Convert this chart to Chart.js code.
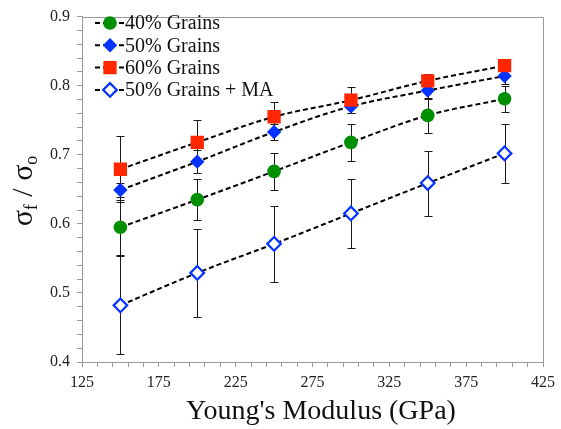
<!DOCTYPE html>
<html>
<head>
<meta charset="utf-8">
<script src="https://cdn.jsdelivr.net/npm/chart.js@4.4.1/dist/chart.umd.min.js"></script>
<style>
  html, body { margin: 0; padding: 0; background: #fff; }
  #wrap { width: 561px; height: 429px; }
</style>
</head>
<body>
<div id="wrap"><canvas id="modulusChart" width="561" height="429"></canvas></div>
<script>
// Young's modulus (GPa) on the x axis
const modulus = [150, 200, 250, 300, 350, 400];

// sigma_f / sigma_o
const grains40 = [0.595, 0.635, 0.676, 0.718, 0.757, 0.781];
const grains50 = [0.649, 0.690, 0.733, 0.770, 0.793, 0.814];
const grains60 = [0.679, 0.718, 0.755, 0.779, 0.807, 0.829];
const grains50MA = [0.482, 0.529, 0.571, 0.615, 0.659, 0.702];

// half-height of each error bar
const err40 = [0.040, 0.030, 0.027, 0.027, 0.025, 0.019];
const err50 = [0.010, 0.017, 0.012, 0.010, 0.013, 0.012];
const err60 = [0.048, 0.032, 0.021, 0.019, 0.010, 0.008];
const err50MA = [0.071, 0.064, 0.055, 0.050, 0.047, 0.043];

const seriesNames = ['40% Grains', '50% Grains', '60% Grains', '50% Grains + MA'];

const serif = "'Liberation Serif', 'Times New Roman', serif";
Chart.defaults.font.family = serif;

function points(vals) {
    return modulus.map((x, i) => ({ x: x, y: vals[i] }));
}

function series(label, vals, errs, style, order) {
    return Object.assign({
        label: label,
        data: points(vals),
        errors: errs,
        borderColor: '#000',
        borderWidth: 2,
        borderDash: [5, 3],
        tension: 0.35,
        fill: false,
        order: order,
        pointBorderWidth: 0
    }, style);
}

const errorBars = {
    id: 'errorBars',
    beforeDatasetsDraw(chart) {
        const { ctx, scales: { x, y } } = chart;
        ctx.save();
        ctx.strokeStyle = '#1a1a1a';
        ctx.lineWidth = 1;
        chart.data.datasets.forEach(ds => {
            ds.data.forEach((p, i) => {
                const e = ds.errors[i];
                const px = Math.round(x.getPixelForValue(p.x)) + 0.5;
                const top = Math.round(y.getPixelForValue(p.y + e)) + 0.5;
                const bot = Math.round(y.getPixelForValue(p.y - e)) + 0.5;
                ctx.beginPath();
                ctx.moveTo(px, top); ctx.lineTo(px, bot);
                ctx.moveTo(px - 4, top); ctx.lineTo(px + 4, top);
                ctx.moveTo(px - 4, bot); ctx.lineTo(px + 4, bot);
                ctx.stroke();
            });
        });
        ctx.restore();
    }
};

// box around the plot, legend inside, and the two axis titles
const decorations = {
    id: 'decorations',
    afterDraw(chart) {
        const ctx = chart.ctx;
        const a = chart.chartArea;
        ctx.save();
        ctx.strokeStyle = '#9a9a9a';
        ctx.lineWidth = 1;
        ctx.beginPath();
        ctx.moveTo(Math.round(a.left) + 0.5, Math.round(a.top) + 0.5);
        ctx.lineTo(Math.round(a.right) + 0.5, Math.round(a.top) + 0.5);
        ctx.lineTo(Math.round(a.right) + 0.5, Math.round(a.bottom) + 0.5);
        ctx.stroke();

        // legend
        chart.data.datasets.forEach((ds, i) => {
            const ly = 23 + i * 22.3;
            ctx.save();
            ctx.strokeStyle = '#000';
            ctx.lineWidth = 2;
            ctx.setLineDash([5, 3]);
            ctx.beginPath();
            ctx.moveTo(95, ly);
            ctx.lineTo(124, ly);
            ctx.stroke();
            ctx.restore();
            ctx.fillStyle = ds.pointBackgroundColor;
            ctx.strokeStyle = ds.pointBorderColor || ds.pointBackgroundColor;
            ctx.lineWidth = ds.pointBorderWidth;
            Chart.helpers.drawPoint(ctx, {
                pointStyle: ds.pointStyle,
                radius: ds.pointRadius,
                rotation: 0,
                borderWidth: ds.pointBorderWidth
            }, 110, ly);
            ctx.fillStyle = '#111';
            ctx.font = '20px ' + serif;
            ctx.textBaseline = 'middle';
            ctx.textAlign = 'left';
            ctx.fillText(ds.label, 125, ly + 1);
        });

        // x title
        ctx.fillStyle = '#111';
        ctx.font = '28px ' + serif;
        ctx.textAlign = 'center';
        ctx.textBaseline = 'alphabetic';
        ctx.fillText("Young's Modulus (GPa)", 321, 419);

        // y title with subscripts
        const big = '30px ' + serif, small = '18px ' + serif;
        const parts = [['σ', big, 0], ['f', small, 5], [' / ', big, 0], ['σ', big, 0], ['o', small, 5]];
        let total = 0;
        parts.forEach(p => { ctx.font = p[1]; total += ctx.measureText(p[0]).width; });
        ctx.translate(32, 191);
        ctx.rotate(-Math.PI / 2);
        ctx.textAlign = 'left';
        let cx = -total / 2;
        parts.forEach(p => {
            ctx.font = p[1];
            ctx.fillText(p[0], cx, p[2]);
            cx += ctx.measureText(p[0]).width;
        });
        ctx.restore();
    }
};

const tickFont = { family: serif, size: 16 };

new Chart(document.getElementById('modulusChart'), {
    type: 'line',
    data: {
        datasets: [
            series(seriesNames[0], grains40, err40, {
                pointStyle: 'circle', pointRadius: 6.8, pointHoverRadius: 6.8,
                pointBackgroundColor: '#008f00', pointBorderColor: '#008f00'
            }, 3),
            series(seriesNames[1], grains50, err50, {
                pointStyle: 'rectRot', pointRadius: 7.2, pointHoverRadius: 7.2,
                pointBackgroundColor: '#0433ff', pointBorderColor: '#0433ff'
            }, 2),
            series(seriesNames[2], grains60, err60, {
                pointStyle: 'rect', pointRadius: 9.4, pointHoverRadius: 9.4,
                pointBackgroundColor: '#ff2600', pointBorderColor: '#ff2600'
            }, 1),
            series(seriesNames[3], grains50MA, err50MA, {
                pointStyle: 'rectRot', pointRadius: 6.8, pointHoverRadius: 6.8,
                pointBackgroundColor: '#ffffff', pointBorderColor: '#0433ff',
                pointBorderWidth: 2.2
            }, 4)
        ]
    },
    options: {
        responsive: false,
        animation: false,
        events: [],
        layout: { padding: { top: 15, right: 13, left: 0, bottom: 0 } },
        plugins: { legend: { display: false }, tooltip: { enabled: false } },
        scales: {
            x: {
                type: 'linear',
                min: 125,
                max: 425,
                afterBuildTicks: axis => {
                    const t = [];
                    for (let v = 125; v <= 425; v += 10) t.push({ value: v });
                    axis.ticks = t;
                },
                afterFit: axis => { axis.height = 67; },
                grid: { drawOnChartArea: false, drawTicks: true, tickLength: 5, color: '#9a9a9a' },
                border: { color: '#9a9a9a', width: 1 },
                ticks: {
                    autoSkip: false, maxRotation: 0, padding: 6, color: '#222', font: tickFont,
                    callback: v => ((v - 125) % 50 === 0 ? String(v) : '')
                }
            },
            y: {
                min: 0.4,
                max: 0.9,
                afterBuildTicks: axis => {
                    const t = [];
                    for (let i = 0; i <= 25; i++) t.push({ value: Math.round((0.4 + i * 0.02) * 100) / 100 });
                    axis.ticks = t;
                },
                afterFit: axis => { axis.width = 82; },
                grid: { drawOnChartArea: false, drawTicks: true, tickLength: 5, color: '#9a9a9a' },
                border: { color: '#9a9a9a', width: 1 },
                ticks: {
                    autoSkip: false, padding: 7, color: '#222', font: tickFont,
                    callback: v => (Math.round(v * 100) % 10 === 0 ? v.toFixed(1) : '')
                }
            }
        }
    },
    plugins: [errorBars, decorations]
});
</script>
</body>
</html>
